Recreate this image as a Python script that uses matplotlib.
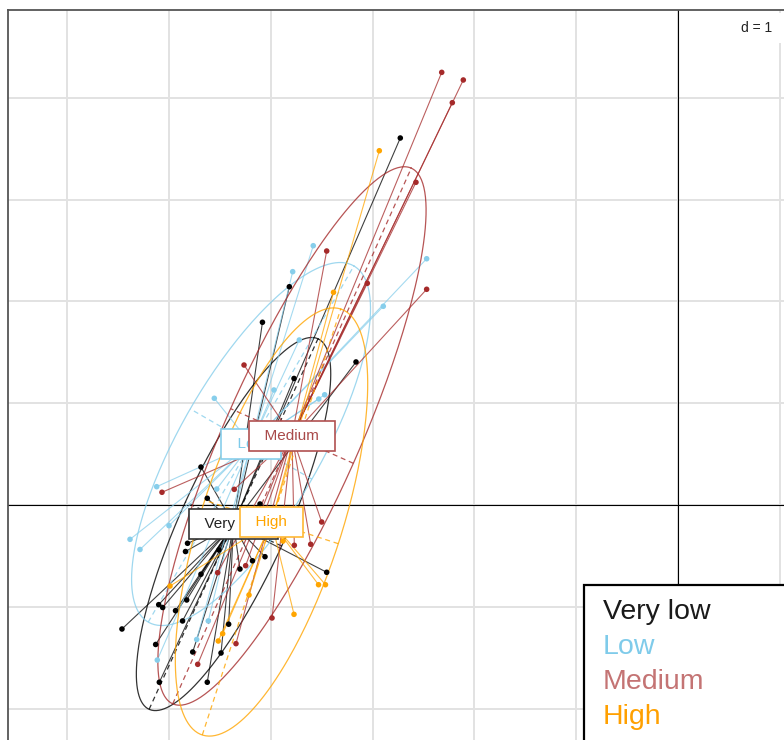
import numpy as np
import matplotlib.pyplot as plt
from matplotlib.patches import Rectangle

plt.rcParams['font.family'] = ['Liberation Sans', 'DejaVu Sans']

classes = ['Very low', 'Low', 'Medium', 'High']
colors = ['#000000', '#87CEEB', '#A52A2A', '#FFA500']
text_colors = ['#1a1a1a', '#7FCBEA', '#C47474', '#FFA000']

# individual scores, one pair of lists per class
verylow_x = [-2.728, -3.818, -4.082, -3.163, -3.772, -4.686, -4.624, -4.106, -4.818, -4.838,
             -3.451, -4.057, -4.180, -4.303, -4.686, -5.462, -5.101, -5.062, -4.936, -4.826,
             -4.867, -5.131, -4.767, -4.489, -4.414, -4.624, -5.095, -4.509]
verylow_y = [3.605, 2.144, 1.795, 1.405, 1.243, 0.373, 0.066, 0.010, -0.376, -0.457,
             -0.661, -0.508, -0.548, -0.629, -0.680, -1.218, -0.979, -1.007, -1.038, -0.933,
             -1.139, -1.370, -1.444, -1.454, -1.171, -1.741, -1.741, -0.442]
low_x = [-3.583, -3.785, -2.469, -2.895, -3.720, -3.969, -3.529, -3.471, -4.555, -5.121,
         -5.000, -5.383, -5.285, -4.531, -4.614, -4.728, -5.115]
low_y = [2.547, 2.292, 2.419, 1.952, 1.621, 1.130, 1.041, 1.083, 1.048, 0.180,
         -0.203, -0.337, -0.437, 0.157, -1.139, -1.321, -1.523]
medium_x = [-2.321, -2.109, -2.217, -2.574, -3.451, -3.052, -2.469, -4.263, -5.069, -4.359,
            -3.500, -3.769, -3.608, -3.988, -4.247, -4.342, -4.718, -4.522]
medium_y = [4.250, 4.175, 3.952, 3.170, 2.495, 2.178, 2.119, 1.375, 0.125, 0.154,
            -0.167, -0.396, -0.386, -1.110, -0.596, -1.362, -1.565, -0.665]
high_x = [-2.934, -3.384, -3.531, -3.463, -4.990, -3.772, -4.473, -4.516, -4.214, -3.880]
high_y = [3.480, 2.089, -0.783, -0.783, -0.796, -1.074, -1.264, -1.336, -0.884, -0.354]

# class centres and ellipse shapes (semi-axes, angle of major axis in degrees)
center_x = [-4.366, -4.194, -3.792, -3.993]
center_y = [-0.187, 0.599, 0.678, -0.167]
ell_a = [2.00, 2.02, 2.88, 2.20]
ell_b = [0.52, 0.69, 0.66, 0.69]
ell_angle = [65.5, 60.0, 66.0, 72.0]

xs = [verylow_x, low_x, medium_x, high_x]
ys = [verylow_y, low_y, medium_y, high_y]

W, H = 784, 740
scale = 101.8
fig = plt.figure(figsize=(W / 100, H / 100), dpi=100)

xmin, xmax = (8 - 678) / scale, 1.5
ymin, ymax = -2.6, (505 - 10) / scale
bottom_px = 505 - ymin * scale
ax = fig.add_axes([8 / W, 1 - bottom_px / H,
                   (xmax - xmin) * scale / W, (ymax - ymin) * scale / H])
ax.set_xlim(xmin, xmax)
ax.set_ylim(ymin, ymax)
ax.set_xticks(range(-6, 2))
ax.set_yticks(range(-2, 5))
ax.tick_params(length=0, labelbottom=False, labelleft=False)
ax.grid(True, color='#e2e2e2', lw=1.4, zorder=0)
ax.set_axisbelow(True)
for sp in ax.spines.values():
    sp.set_color('#555555')
    sp.set_linewidth(1.3)
ax.axhline(0, color='black', lw=0.8, zorder=1)
ax.axvline(0, color='black', lw=0.8, zorder=1)

t = np.linspace(0, 2 * np.pi, 300)
for i, name in enumerate(classes):
    col = colors[i]
    cx, cy = center_x[i], center_y[i]
    a, b = ell_a[i], ell_b[i]
    th = np.radians(ell_angle[i])
    ex = cx + a * np.cos(t) * np.cos(th) - b * np.sin(t) * np.sin(th)
    ey = cy + a * np.cos(t) * np.sin(th) + b * np.sin(t) * np.cos(th)
    ax.plot(ex, ey, color=col, lw=0.9, alpha=0.8, zorder=2)
    # ellipse axes
    ax.plot([cx - a * np.cos(th), cx + a * np.cos(th)],
            [cy - a * np.sin(th), cy + a * np.sin(th)],
            color=col, lw=0.9, ls=(0, (4, 3)), alpha=0.8, zorder=2)
    ax.plot([cx + b * np.sin(th), cx - b * np.sin(th)],
            [cy - b * np.cos(th), cy + b * np.cos(th)],
            color=col, lw=0.9, ls=(0, (4, 3)), alpha=0.8, zorder=2)
    # stars
    for px, py in zip(xs[i], ys[i]):
        ax.plot([px, cx], [py, cy], color=col, lw=0.8, alpha=0.75, zorder=2)

for i in range(4):
    ax.scatter(xs[i], ys[i], s=16, color=colors[i], edgecolors='none', zorder=3)

label_text = ['#222222', '#7FCBEA', '#A94A4A', '#FFA500']
label_edge = ['#333333', '#87CEEB', '#B05050', '#FFB733']
for i, name in enumerate(classes):
    ax.text(center_x[i], center_y[i], '  ' + name + '  ', ha='center', va='center',
            fontsize=11, color=label_text[i], zorder=5,
            bbox=dict(boxstyle='square,pad=0.5', fc='white', ec=label_edge[i], lw=1.2))

# legend box
fig.patches.append(Rectangle((584 / W, -0.1), 0.5, 1 - 585 / H + 0.1,
                             transform=fig.transFigure, fc='white', ec='black',
                             lw=1.6, zorder=10))
for i, name in enumerate(classes):
    fig.text(603 / W, 1 - (612 + 35 * i) / H, name, color=text_colors[i],
             fontsize=20.5, va='center', ha='left', zorder=11)

fig.text(757 / W, 1 - 28 / H, 'd = 1', ha='center', va='center', fontsize=10,
         color='#222222', zorder=11,
         bbox=dict(boxstyle='square,pad=0.6', fc='white', ec='none'))

fig.savefig('out.png', dpi=100)
